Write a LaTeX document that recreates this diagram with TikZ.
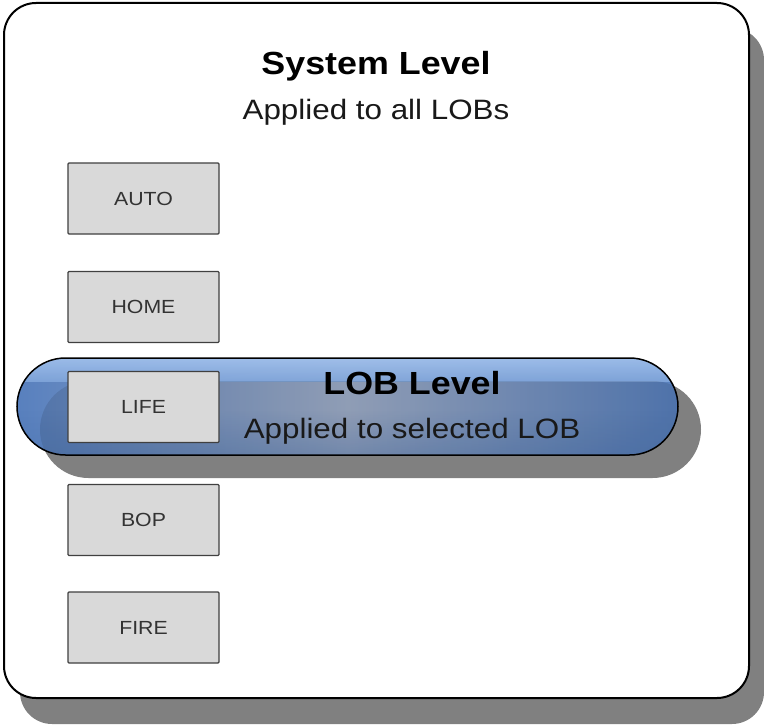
\documentclass[tikz,border=0pt]{standalone}
\usepackage{fontspec}
\setmainfont[FakeStretch=1.12]{Liberation Sans}
\usetikzlibrary{fadings}
\definecolor{pillband}{RGB}{160,192,236}
\definecolor{pillbandlow}{RGB}{128,165,218}
\definecolor{pillside}{RGB}{88,128,190}
\definecolor{pillcenter}{RGB}{160,175,202}
\definecolor{pillbot}{RGB}{70,110,170}
\definecolor{shadowgray}{RGB}{128,128,128}
\tikzfading[name=fadeup, top color=transparent!100, bottom color=transparent!0]
\begin{document}
\begin{tikzpicture}[x=1pt,y=-1pt,
  lobbox/.style={draw=black!75, line width=1.3pt, fill=black!15, minimum width=151pt, minimum height=71pt, inner sep=0pt, rounded corners=1pt, font=\fontsize{19}{22}\selectfont, text=black!80},
  bigtitle/.style={anchor=base, font=\bfseries\fontsize{32}{38}\selectfont},
  subtitle/.style={anchor=base, font=\fontsize{28}{34}\selectfont, text=black!90},
  pillshape/.style={rounded corners=48.5}]
\useasboundingbox (0,0) rectangle (764,725);
% outer panel
\fill[shadowgray, rounded corners=32] (20,28) rectangle (764,724);
\draw[line width=2pt, fill=white, rounded corners=32] (4,3) rectangle (749,698);
\node[bigtitle] (systitle) at (376,75) {System Level};
\node[subtitle] (syssub) at (376,120) {Applied to all LOBs};
% LOB boxes
\node[lobbox] (auto) at (143.5,198.5) {AUTO};
\node[lobbox] (home) at (143.5,307) {HOME};
\node[lobbox] (bop) at (143.5,520) {BOP};
\node[lobbox] (fire) at (143.5,627.5) {FIRE};
% LOB level pill
\fill[shadowgray, pillshape] (40,381) rectangle (701,478);
\begin{scope}
  \clip[pillshape] (17,358) rectangle (678,455);
  \shade[left color=pillside, right color=pillside, middle color=pillcenter] (17,358) rectangle (678,455);
  \fill[pillbot, fill opacity=0.35, path fading=fadeup] (17,410) rectangle (678,455);
  \shade[top color=pillband, bottom color=pillbandlow, fill opacity=0.92] (17,358) rectangle (678,381);
  \fill[black, fill opacity=0.10, pillshape] (40,381) rectangle (701,478);
\end{scope}
\draw[line width=1.5pt, pillshape] (17,358) rectangle (678,455);
\node[lobbox] (life) at (143.5,407) {LIFE};
\node[bigtitle] (lobtitle) at (412,394) {LOB Level};
\node[subtitle] (lobsub) at (412,438) {Applied to selected LOB};
\end{tikzpicture}
\end{document}
